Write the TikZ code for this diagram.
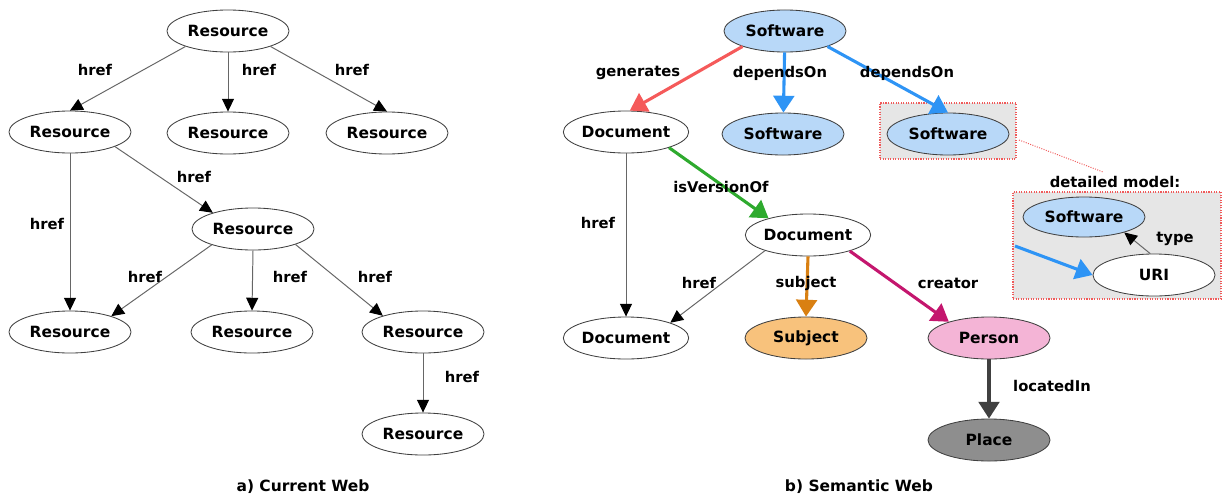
\documentclass[tikz,border=0pt]{standalone}
\usepackage{fontspec}
\setmainfont{DejaVu Sans}
\usetikzlibrary{shapes.geometric,arrows.meta}

\definecolor{swfill}{RGB}{184,216,248}
\definecolor{subjfill}{RGB}{248,194,124}
\definecolor{persfill}{RGB}{244,180,214}
\definecolor{placefill}{RGB}{142,142,142}
\definecolor{depblue}{RGB}{46,148,245}
\definecolor{genred}{RGB}{245,90,90}
\definecolor{vergreen}{RGB}{46,170,46}
\definecolor{subjorange}{RGB}{217,128,18}
\definecolor{creamag}{RGB}{196,22,110}
\definecolor{locgray}{RGB}{64,64,64}
\definecolor{boxgray}{RGB}{230,230,230}
\definecolor{boxred}{RGB}{240,90,90}

\tikzset{
  res/.style={ellipse, draw=black!75, line width=0.6pt, fill=white,
    minimum width=3.05cm, minimum height=1.05cm, inner sep=0pt,
    font=\fontsize{11}{13}\selectfont\bfseries},
  lbl/.style={inner sep=0pt, font=\fontsize{10.5}{12}\selectfont\bfseries},
  caption/.style={inner sep=0pt, font=\fontsize{11}{12}\selectfont\bfseries},
  hrefline/.style={draw=black!60, line width=0.7pt,
    -{Triangle[length=0.32cm,width=0.3cm,color=black]}},
  fatline/.style={line width=2.2pt, -{Triangle[length=0.42cm,width=0.52cm]}},
  zoombox/.style={draw=boxred, densely dotted, line width=0.8pt, fill=boxgray, inner sep=0pt},
}

\begin{document}
\begin{tikzpicture}[x=0.025cm, y=-0.025cm]
\useasboundingbox (0, 0) rectangle (1222, 494);

% a) current web
\node[res] (r0) at (228,  31) {Resource};
\node[res] (r1) at ( 70, 132) {Resource};
\node[res] (r2) at (228, 133) {Resource};
\node[res] (r3) at (387, 133) {Resource};
\node[res] (r4) at (253, 229) {Resource};
\node[res] (r5) at ( 70, 332) {Resource};
\node[res] (r6) at (252, 332) {Resource};
\node[res] (r7) at (423, 332) {Resource};
\node[res] (r8) at (423, 434) {Resource};

\draw[hrefline] (r0.200) -- (r1.north);
\draw[hrefline] (r0) -- (r2);
\draw[hrefline] (r0.340) -- (r3.north);
\draw[hrefline] (r1.-18) -- (r4.158);
\draw[hrefline] (r1) -- (r5);
\draw[hrefline] (r4.201) -- (r5.21);
\draw[hrefline] (r4.south) -- (r6.north);
\draw[hrefline] (r4.-20) -- (r7.158);
\draw[hrefline] (r7) -- (r8);

\node[lbl] (h01) at ( 95,  70) {href};
\node[lbl] (h02) at (259,  70) {href};
\node[lbl] (h03) at (352,  70) {href};
\node[lbl] (h14) at (194, 177) {href};
\node[lbl] (h15) at ( 47, 224) {href};
\node[lbl] (h45) at (145, 277) {href};
\node[lbl] (h46) at (290, 277) {href};
\node[lbl] (h47) at (375, 277) {href};
\node[lbl] (h78) at (462, 377) {href};

\node[caption] (capa) at (303, 487) {a) Current Web};

% b) semantic web
\node[zoombox, minimum width=3.4cm, minimum height=1.4cm] (box1) at (948, 131) {};
\node[zoombox, minimum width=5.2cm, minimum height=2.675cm] (box2) at (1117, 245.5) {};

\node[res, fill=swfill]    (s0) at (785,  31) {Software};
\node[res]                 (d1) at (626, 132) {Document};
\node[res, fill=swfill]    (s1) at (783, 134) {Software};
\node[res, fill=swfill]    (s2) at (948, 134) {Software};
\node[res]                 (d2) at (808, 235) {Document};
\node[res]                 (d3) at (626, 338) {Document};
\node[res, fill=subjfill]  (sj) at (806, 338) {Subject};
\node[res, fill=persfill]  (pe) at (989, 338) {Person};
\node[res, fill=placefill] (pl) at (989, 440) {Place};
\node[res, fill=swfill, minimum height=1.0cm] (sd) at (1084, 217) {Software};
\node[res]                 (uri) at (1154, 275) {URI};

\draw[fatline, genred] (s0.200) -- (d1.80);
\draw[fatline, depblue] (s0) -- (s1);
\draw[fatline, depblue] (s0.340) -- (s2.north);
\draw[fatline, vergreen] (d1.-20) -- (d2.157);
\draw[hrefline] (d1) -- (d3);
\draw[hrefline] (d2.200) -- (d3.19);
\draw[fatline, subjorange] (d2.south) -- (sj.north);
\draw[fatline, creamag] (d2.-21) -- (pe.158);
\draw[fatline, locgray] (pe) -- (pl);

\coordinate (bin) at (1015, 246);
\draw[fatline, depblue] (bin) -- (uri.west);
\draw[hrefline] (uri.100) -- (sd.-21);

\coordinate (zfrom) at (1019, 140);
\coordinate (zto) at (1103, 172);
\draw[boxred, densely dotted, line width=0.7pt] (zfrom) -- (zto);

\node[lbl] (lgen)  at (638,  73) {generates};
\node[lbl] (ldep1) at (780,  73) {dependsOn};
\node[lbl] (ldep2) at (907,  73) {dependsOn};
\node[lbl] (lver)  at (721, 187) {isVersionOf};
\node[lbl] (lh1)   at (598, 223) {href};
\node[lbl] (lh2)   at (699, 283) {href};
\node[lbl] (lsubj) at (806, 283) {subject};
\node[lbl] (lcrea) at (948, 283) {creator};
\node[lbl] (lloc)  at (1052, 386) {locatedIn};
\node[lbl] (ldet)  at (1115, 182) {detailed model:};
\node[lbl] (ltype) at (1175, 239) {type};

\node[caption] (capb) at (859, 487) {b) Semantic Web};
\end{tikzpicture}
\end{document}
